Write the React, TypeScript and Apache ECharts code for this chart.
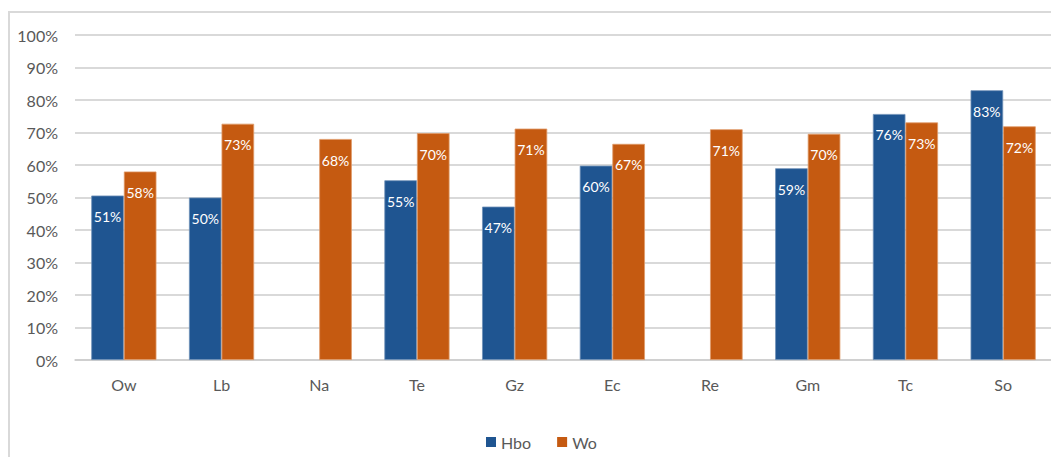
import React, { useEffect, useRef } from "react";
import * as echarts from "echarts";

const categories = ["Ow", "Lb", "Na", "Te", "Gz", "Ec", "Re", "Gm", "Tc", "So"];
const hboValues: (number | null)[] = [50.6, 50.0, null, 55.3, 47.2, 59.8, null, 59.0, 75.7, 83.0];
const woValues: (number | null)[] = [58.0, 72.7, 68.0, 69.8, 71.2, 66.5, 71.0, 69.6, 73.1, 71.9];
const yTicks = [0, 10, 20, 30, 40, 50, 60, 70, 80, 90, 100];

const BLUE = "#1F5591";
const ORANGE = "#C55A11";
const TEXT = "#595959";
const FONT = "Lato, 'Open Sans', sans-serif";

export default function App() {
  const ref = useRef<HTMLDivElement>(null);
  useEffect(() => {
    if (!ref.current) return;
    const chart = echarts.init(ref.current, undefined, { renderer: "svg" });
    const label = {
      show: true,
      position: "insideTop" as const,
      distance: 14,
      color: "#ffffff",
      fontSize: 14,
      fontFamily: FONT,
      formatter: (p: any) => (p.value == null ? "" : Math.round(p.value) + "%"),
    };
    chart.setOption({
      animation: false,
      textStyle: { fontFamily: FONT },
      grid: { left: 65, top: 22, width: 977, height: 325, containLabel: false },
      legend: {
        left: 471,
        top: 416,
        itemWidth: 10,
        itemHeight: 10,
        itemGap: 26,
        icon: "rect",
        itemStyle: { borderWidth: 0 },
        textStyle: { color: TEXT, fontSize: 16, fontFamily: FONT },
        data: ["Hbo", "Wo"],
      },
      xAxis: {
        type: "category",
        data: categories,
        axisLine: { show: true, lineStyle: { color: "#cccccc", width: 1.5 } },
        axisTick: { show: false },
        axisLabel: { color: TEXT, fontSize: 16, fontFamily: FONT, margin: 16 },
      },
      yAxis: {
        type: "value",
        min: yTicks[0],
        max: yTicks[yTicks.length - 1],
        interval: 10,
        axisLine: { show: false },
        axisTick: { show: false },
        axisLabel: {
          color: TEXT,
          fontSize: 16,
          fontFamily: FONT,
          margin: 17,
          formatter: (v: number) => v + "%",
        },
        splitLine: { lineStyle: { color: "#cccccc", width: 1.5 } },
      },
      series: [
        {
          name: "Hbo",
          type: "bar",
          data: hboValues,
          barGap: "0%",
          barCategoryGap: "33.3%",
          itemStyle: { color: BLUE, borderColor: "#6f90b8", borderWidth: 0.8 },
          label,
        },
        {
          name: "Wo",
          type: "bar",
          data: woValues,
          barGap: "0%",
          barCategoryGap: "33.3%",
          itemStyle: { color: ORANGE, borderColor: "#e09a6a", borderWidth: 0.8 },
          label,
        },
      ],
    });
    return () => chart.dispose();
  }, []);

  return (
    <div
      style={{
        position: "fixed",
        left: 8,
        top: 11,
        width: 1043,
        height: 446,
        overflow: "hidden",
        borderTop: "2px solid #d9d9d9",
        borderLeft: "2px solid #d9d9d9",
        boxSizing: "border-box",
        background: "#fff",
      }}
    >
      <div ref={ref} style={{ width: 1050, height: 444 }} />
    </div>
  );
}
